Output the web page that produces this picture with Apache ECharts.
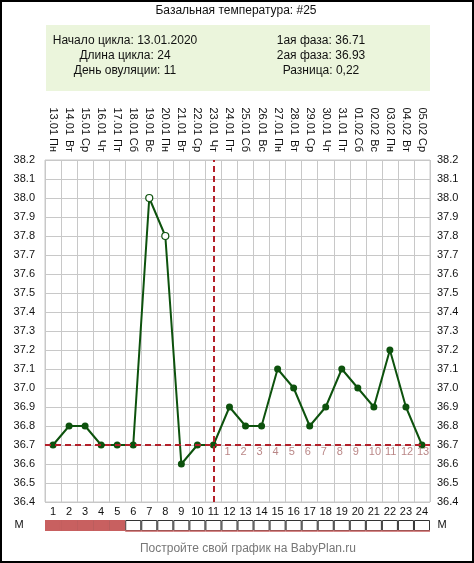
<!DOCTYPE html>
<html>
<head>
<meta charset="utf-8">
<script src="https://cdn.jsdelivr.net/npm/echarts@6/dist/echarts.min.js"></script>
<style>
html,body{margin:0;padding:0;background:#fff;}
#chart{width:474px;height:563px;}
</style>
</head>
<body>
<div id="chart"></div>
<script>
// ---- data ----
const titleText = 'Базальная температура: #25';
const infoLeft = ['Начало цикла: 13.01.2020', 'Длина цикла: 24', 'День овуляции: 11'];
const infoRight = ['1ая фаза: 36.71', '2ая фаза: 36.93', 'Разница: 0,22'];
const days = ['1','2','3','4','5','6','7','8','9','10','11','12','13','14','15','16','17','18','19','20','21','22','23','24'];
const weekdays = ['Пн','Вт','Ср','Чт','Пт','Сб','Вс','Пн','Вт','Ср','Чт','Пт','Сб','Вс','Пн','Вт','Ср','Чт','Пт','Сб','Вс','Пн','Вт','Ср'];
const dates = ['13.01','14.01','15.01','16.01','17.01','18.01','19.01','20.01','21.01','22.01','23.01','24.01','25.01','26.01','27.01','28.01','29.01','30.01','31.01','01.02','02.02','03.02','04.02','05.02'];
const temps = [36.7,36.8,36.8,36.7,36.7,36.7,38.0,37.8,36.6,36.7,36.7,36.9,36.8,36.8,37.1,37.0,36.8,36.9,37.1,37.0,36.9,37.2,36.9,36.7];
const hollowDays = [7, 8];
const coverLine = 36.7;
const ovulationDay = 11;
const postOvNums = ['1','2','3','4','5','6','7','8','9','10','11','12','13'];
const menses = [1,1,1,1,1,0,0,0,0,0,0,0,0,0,0,0,0,0,0,0,0,0,0,0];
const footerText = 'Постройте свой график на BabyPlan.ru';
const yTicks = {min: 36.4, max: 38.2, step: 0.1};

// ---- chart ----
const FONT = 'Liberation Sans, Arial, sans-serif';
const GREEN = '#0d520d';
const RED = '#b3202a';
const MENS = '#c86060';
const NUM_SIZE = 11;
const chart = echarts.init(document.getElementById('chart'), null, {renderer: 'canvas'});

const lineData = temps.map((t, i) => {
  const d = i + 1;
  if (hollowDays.includes(d)) {
    return {value: t, itemStyle: {color: '#fff', borderColor: GREEN, borderWidth: 1.2}};
  }
  return t;
});
const postData = postOvNums.map((n, i) => [ovulationDay + i, coverLine, n]);
const cells = days.map(() => 1);

const txt = (x, y, text, fill, size) => ({type: 'text', x, y, z: 1,
  style: {text, font: (size || 12) + 'px ' + FONT, fill: fill || '#111', textAlign: 'center', textVerticalAlign: 'middle'}});
const graphics = [
  {type: 'rect', shape: {x: 1, y: 1, width: 472, height: 561}, style: {fill: 'none', stroke: '#000', lineWidth: 2}, z: 100},
  {type: 'rect', shape: {x: 46, y: 25, width: 384, height: 66}, style: {fill: '#ebf5dc'}, z: 0},
  txt(236, 11, titleText),
  txt(248, 549, footerText, '#777'),
  txt(19, 525, 'M', '#111', 11),
  txt(442, 525, 'M', '#111', 11)
];
const rowsY = [41, 56, 71];
infoLeft.forEach((t, i) => graphics.push(txt(125, rowsY[i], t)));
infoRight.forEach((t, i) => graphics.push(txt(321, rowsY[i], t)));

const yLabel = {fontSize: NUM_SIZE, fontFamily: FONT, color: '#111', formatter: v => Number(v).toFixed(1)};
const topLabel = {interval: 0, rotate: 90, fontSize: 11, fontFamily: FONT, color: '#111', hideOverlap: false};

chart.setOption({
  animation: false,
  textStyle: {fontFamily: FONT},
  graphic: graphics,
  grid: [
    {left: 45, right: 44, top: 160, height: 342, show: true, borderColor: '#c8c8c8', borderWidth: 1},
    {left: 45, right: 44, top: 520, height: 11, show: false}
  ],
  xAxis: [
    {type: 'category', gridIndex: 0, data: days, position: 'bottom', boundaryGap: true,
     axisLine: {show: false}, axisTick: {show: false},
     axisLabel: {interval: 0, margin: 4, fontSize: NUM_SIZE, fontFamily: FONT, color: '#111', hideOverlap: false},
     splitLine: {show: true, interval: 0, lineStyle: {color: '#c8c8c8', width: 1}}},
    {type: 'category', gridIndex: 0, data: weekdays, position: 'top', boundaryGap: true,
     axisLine: {show: false}, axisTick: {show: false},
     axisLabel: Object.assign({margin: 8}, topLabel), splitLine: {show: false}},
    {type: 'category', gridIndex: 0, data: dates, position: 'top', boundaryGap: true,
     axisLine: {show: false}, axisTick: {show: false},
     axisLabel: Object.assign({margin: 25}, topLabel), splitLine: {show: false}},
    {type: 'category', gridIndex: 1, data: days, boundaryGap: true, show: false}
  ],
  yAxis: [
    {type: 'value', gridIndex: 0, position: 'left', min: yTicks.min, max: yTicks.max, interval: yTicks.step,
     axisLine: {show: false}, axisTick: {show: false},
     axisLabel: Object.assign({margin: 10}, yLabel),
     splitLine: {show: true, lineStyle: {color: '#c8c8c8', width: 1}}},
    {type: 'value', gridIndex: 0, position: 'right', min: yTicks.min, max: yTicks.max, interval: yTicks.step,
     axisLine: {show: false}, axisTick: {show: false},
     axisLabel: Object.assign({margin: 7}, yLabel),
     splitLine: {show: false}},
    {type: 'value', gridIndex: 1, min: 0, max: 1, show: false}
  ],
  series: [
    {type: 'line', xAxisIndex: 0, yAxisIndex: 0, data: lineData,
     symbol: 'circle', symbolSize: 7, showSymbol: true,
     lineStyle: {color: GREEN, width: 2}, itemStyle: {color: GREEN}, z: 3},
    {type: 'line', xAxisIndex: 0, yAxisIndex: 0, data: [], z: 5,
     markLine: {silent: true, symbol: 'none', animation: false,
       label: {show: false},
       lineStyle: {color: RED, width: 2, type: [6, 4]},
       data: [{yAxis: coverLine}, {xAxis: String(ovulationDay)}]}},
    {type: 'scatter', xAxisIndex: 0, yAxisIndex: 0, data: postData, symbolSize: 0, z: 4,
     label: {show: true, position: 'bottom', distance: 1, align: 'left', offset: [-5, 0],
       fontSize: NUM_SIZE, fontFamily: FONT, color: '#a86868',
       formatter: p => p.value[2]}},
    {type: 'bar', xAxisIndex: 3, yAxisIndex: 2, data: cells, barWidth: '100%', barGap: '-100%', z: 9,
     itemStyle: {color: '#fff', borderColor: '#333', borderWidth: 1}},
    {type: 'bar', xAxisIndex: 3, yAxisIndex: 2, data: menses, barWidth: '100%', barGap: '-100%', z: 10,
     itemStyle: {color: MENS, borderColor: MENS, borderWidth: 1.5}}
  ]
});
</script>
</body>
</html>
